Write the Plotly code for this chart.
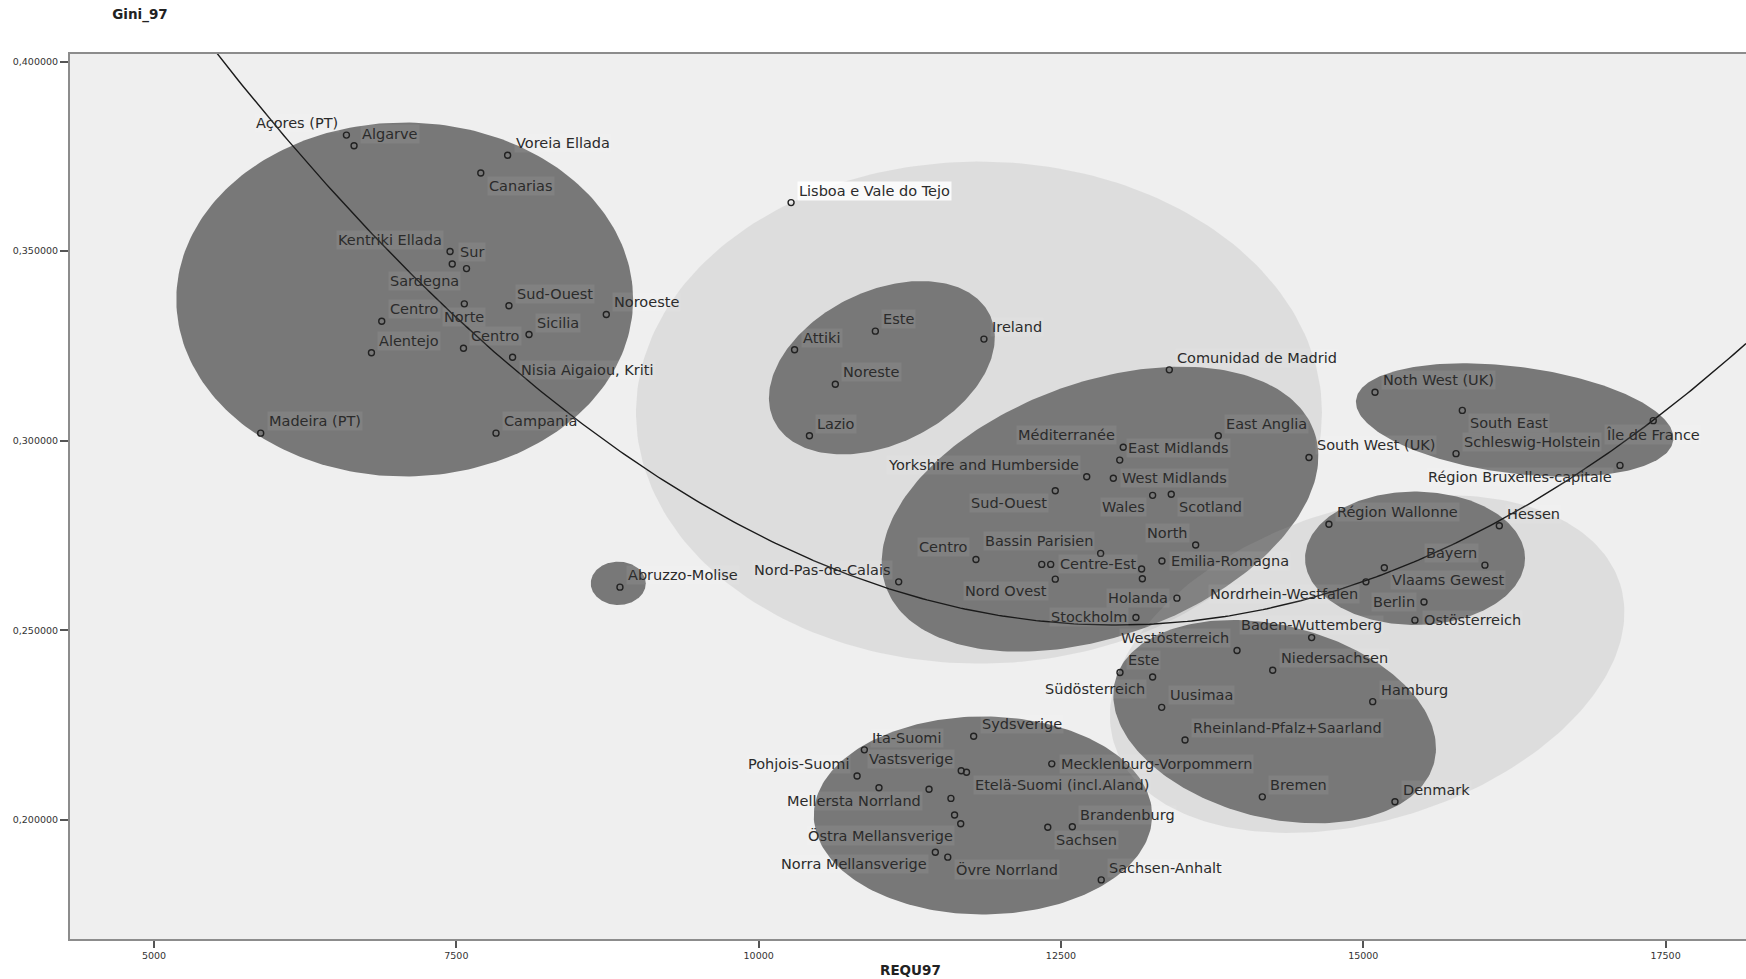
import numpy as np
import plotly.graph_objects as go

# ------------------------------------------------------------------ data
region = [
    "Açores (PT)", "Algarve", "Voreia Ellada", "Canarias", "Kentriki Ellada", "Sur",
    "Sardegna", "Norte", "Sud-Ouest", "Centro", "Noroeste", "Sicilia", "Centro",
    "Alentejo", "Nisia Aigaiou, Kriti", "Madeira (PT)", "Campania",
    "Lisboa e Vale do Tejo", "Este", "Attiki", "Ireland", "Noreste", "Lazio",
    "Comunidad de Madrid", "East Anglia", "Méditerranée", "East Midlands",
    "Yorkshire and Humberside", "West Midlands", "Sud-Ouest", "Wales", "Scotland",
    "North", "Bassin Parisien", "Centro", "", "Centre-Est", "", "",
    "Emilia-Romagna", "Nord Ovest", "Nord-Pas-de-Calais", "Holanda", "Stockholm",
    "Abruzzo-Molise", "Noth West (UK)", "South East", "Schleswig-Holstein",
    "South West (UK)", "Île de France", "Région Bruxelles-capitale",
    "Région Wallonne", "Hessen", "Bayern", "Vlaams Gewest", "Nordrhein-Westfalen",
    "Berlin", "Ostösterreich", "Baden-Wuttemberg", "Westösterreich", "Este",
    "Südösterreich", "Niedersachsen", "Uusimaa", "Hamburg",
    "Rheinland-Pfalz+Saarland", "Bremen", "Denmark", "Sydsverige", "Ita-Suomi",
    "Vastsverige", "Etelä-Suomi (incl.Aland)", "Mecklenburg-Vorpommern",
    "Pohjois-Suomi", "", "Mellersta Norrland", "", "", "Östra Mellansverige",
    "Norra Mellansverige", "Övre Norrland", "Sachsen", "Brandenburg",
    "Sachsen-Anhalt",
]

requ97 = [
    6591, 6654, 7924, 7702, 7448, 7466, 7584, 7566, 7935, 6883, 8740, 8101, 7559,
    6798, 7965, 5882, 7828, 10268, 10965, 10297, 11863, 10634, 10420, 13396,
    13801, 13015, 12986, 12713, 12933, 12453, 13258, 13412, 13614, 12828, 11797,
    12341, 12415, 13167, 13173, 13335, 12453, 11158, 13459, 13120, 8853, 15097,
    15819, 15767, 14551, 17398, 17123, 14716, 16125, 16006, 15174, 15022, 15502,
    15427, 14573, 13956, 12988, 13258, 14251, 13333, 15078, 13526, 14165, 15262,
    11778, 10874, 11675, 11719, 12424, 10814, 10995, 11409, 11590, 11620, 11671,
    11461, 11564, 12391, 12594, 12833,
]

gini97 = [
    0.3806, 0.3778, 0.3753, 0.3706, 0.3499, 0.3466, 0.3454, 0.3361, 0.3356,
    0.3315, 0.3333, 0.3280, 0.3244, 0.3232, 0.3220, 0.3020, 0.3020, 0.3628,
    0.3289, 0.3240, 0.3268, 0.3149, 0.3013, 0.3187, 0.3013, 0.2983, 0.2949,
    0.2905, 0.2901, 0.2868, 0.2856, 0.2859, 0.2725, 0.2703, 0.2687, 0.2674,
    0.2674, 0.2662, 0.2636, 0.2683, 0.2635, 0.2628, 0.2585, 0.2534, 0.2614,
    0.3128, 0.3080, 0.2966, 0.2956, 0.3053, 0.2935, 0.2780, 0.2776, 0.2672,
    0.2665, 0.2628, 0.2575, 0.2527, 0.2481, 0.2447, 0.2389, 0.2377, 0.2395,
    0.2297, 0.2312, 0.2211, 0.2061, 0.2048, 0.2221, 0.2185, 0.2130, 0.2126,
    0.2148, 0.2116, 0.2085, 0.2081, 0.2057, 0.2013, 0.1990, 0.1915, 0.1902,
    0.1981, 0.1982, 0.1842,
]

# quadratic fit line shown on the chart (coefficients)
fit_coef = [2.73e-9, -7.0707e-5, 0.709228]

x_ticks = [5000, 7500, 10000, 12500, 15000, 17500]
y_ticks = [0.20, 0.25, 0.30, 0.35, 0.40]

# ------------------------------------------------------------------ layout constants / styles
W, H = 1746, 979
ML, MR, MT, MB = 70, 0, 54, 40
X_RANGE = [4305, 18165]
Y_RANGE = [0.16862, 0.40198]
SX = (W - ML - MR) / (X_RANGE[1] - X_RANGE[0])   # px per x unit
SY = (H - MT - MB) / (Y_RANGE[1] - Y_RANGE[0])   # px per y unit

DARK = "rgb(120,120,120)"
LIGHT = "rgba(165,165,165,0.23)"

# cluster ellipses: centre (data units), semi-axes (px), rotation (deg), kind; in drawing order
ELLIPSES = [
    (11822, 0.30742, 343, 251, 0, "light"),
    (7073, 0.33725, 228.4, 177, 0, "dark"),
    (11019, 0.31926, 120.2, 76.3, 26.3, "dark"),
    (12823, 0.28195, 227.8, 126.8, 20.1, "dark"),
    (8839, 0.26241, 27.5, 21.7, 0, "dark"),
    (11855, 0.20119, 169.2, 99, 0, "dark"),
    (15032, 0.24113, 265.3, 156, 17.6, "light"),
    (15428, 0.26901, 110, 66.7, 0, "dark"),
    (14267, 0.22592, 164.7, 96.2, -14.3, "dark"),
    (16252, 0.30547, 159.9, 53.4, -7.3, "dark"),
]

# label placement codes (one per point)
label_pos = [
    "ul", "ur", "ur", "lr", "ul", "ur", "ll", "b", "ur", "ur", "ur", "ur", "ur",
    "ur", "lr", "ur", "ur", "ur", "ur", "ur", "ur", "ur", "ur", "ur", "ur", "ul",
    "ur", "ul", "r", "ll", "ll", "lr", "ul", "ul", "ul", "", "r", "", "", "r",
    "ll", "ul", "l", "l", "ur", "ur", "lr", "ur", "ur", "b", "ll", "ur", "ur",
    "ul", "lr", "ll", "l", "r", "a", "ul", "ur", "ll", "ur", "ur", "ur", "ur",
    "ur", "ur", "ur", "ur", "ul", "lr", "r", "ul", "", "ll", "", "", "ll", "ll",
    "lr", "lr", "ur", "ur",
]
POS = {
    "ur": ("left", 6, 12), "ul": ("right", -6, 12),
    "lr": ("left", 6, -12.5), "ll": ("right", -6, -12),
    "r": ("left", 7, 0), "l": ("right", -7, 0),
    "b": ("center", 0, -13.5), "a": ("center", 0, 12.5),
}


def ellipse_xy(cx, cy, a, b, ang, n=240):
    t = np.linspace(0, 2 * np.pi, n)
    th = np.radians(ang)
    ex, ey = a * np.cos(t), b * np.sin(t)
    rx = ex * np.cos(th) - ey * np.sin(th)
    ry = ex * np.sin(th) + ey * np.cos(th)
    return cx + rx / SX, cy + ry / SY


def in_dark(x, y):
    for cx, cy, a, b, ang, kind in ELLIPSES:
        if kind != "dark":
            continue
        th = np.radians(ang)
        dx, dy = (x - cx) * SX, (y - cy) * SY
        u = dx * np.cos(th) + dy * np.sin(th)
        v = -dx * np.sin(th) + dy * np.cos(th)
        if (u / a) ** 2 + (v / b) ** 2 <= 1.0:
            return True
    return False


fig = go.Figure()

for cx, cy, a, b, ang, kind in ELLIPSES:
    ex, ey = ellipse_xy(cx, cy, a, b, ang)
    fig.add_trace(go.Scatter(
        x=ex, y=ey, mode="lines", fill="toself",
        fillcolor=DARK if kind == "dark" else LIGHT,
        line=dict(width=0, color="rgba(0,0,0,0)"),
        hoverinfo="skip", showlegend=False,
    ))

# fit curve
xs = np.linspace(X_RANGE[0], X_RANGE[1], 400)
fig.add_trace(go.Scatter(
    x=xs, y=np.polyval(fit_coef, xs), mode="lines",
    line=dict(color="#1a1a1a", width=1.4), hoverinfo="skip", showlegend=False,
))

# points
fig.add_trace(go.Scatter(
    x=requ97, y=gini97, mode="markers", text=region,
    marker=dict(symbol="circle-open", size=6, color="#222222", line=dict(width=1.4)),
    showlegend=False,
))

annotations = []
for name, xv, yv, code in zip(region, requ97, gini97, label_pos):
    if not name:
        continue
    xa, xsft, ysft = POS[code]
    bg = "rgba(255,255,255,0.07)" if in_dark(xv, yv) else "rgba(255,255,255,0.85)"
    annotations.append(dict(
        x=xv, y=yv, xref="x", yref="y", text=name, showarrow=False,
        xanchor=xa, yanchor="middle", xshift=xsft, yshift=ysft,
        bgcolor=bg, borderpad=1,
        font=dict(family="DejaVu Sans", size=14.5, color="#2b2b2b"),
    ))

annotations.append(dict(
    x=(911 - ML) / (W - ML - MR), y=-(970 - (H - MB)) / (H - MT - MB),
    xref="paper", yref="paper", text="<b>REQU97</b>", showarrow=False,
    xanchor="center", yanchor="middle",
    font=dict(family="DejaVu Sans", size=13.5, color="#222"),
))

fig.update_layout(
    width=W, height=H,
    margin=dict(l=ML, r=MR, t=MT, b=MB),
    paper_bgcolor="white", plot_bgcolor="#efefef",
    separators=",.",
    showlegend=False,
    font=dict(family="DejaVu Sans", color="#333"),
    title=dict(text="<b>Gini_97</b>", x=140 / W, xanchor="center", xref="container",
               y=1 - 14.5 / H, yanchor="middle", yref="container",
               font=dict(family="DejaVu Sans", size=13.5, color="#222")),
    annotations=annotations,
    xaxis=dict(range=X_RANGE, tickvals=x_ticks, tickformat="d", ticks="outside",
               ticklen=7, tickwidth=1.5, tickcolor="#555", showline=True,
               linecolor="#8c8c8c", linewidth=2, mirror=True, showgrid=False,
               zeroline=False, tickfont=dict(size=9.5, color="#333")),
    yaxis=dict(range=Y_RANGE, tickvals=y_ticks, tickformat=".6f", ticks="outside",
               ticklen=8, tickwidth=1.5, tickcolor="#555", showline=True,
               linecolor="#8c8c8c", linewidth=2, showgrid=False, zeroline=False,
               tickfont=dict(size=9.5, color="#333")),
)

fig.write_html("out.html")
